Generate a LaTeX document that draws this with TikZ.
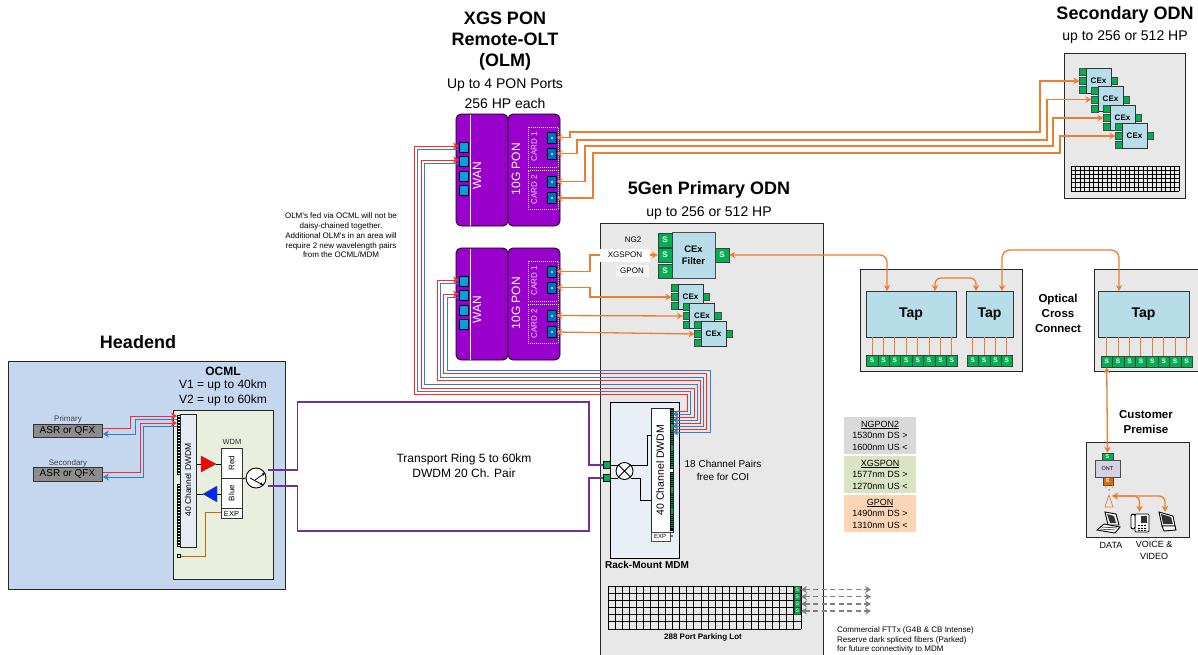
\documentclass[tikz,border=0pt]{standalone}
\usepackage{fontspec}
\setmainfont{Liberation Sans}
\usetikzlibrary{arrows.meta,calc,shapes.geometric}
\newcommand\fsz[2]{\fontsize{#1}{#2}\selectfont}
\definecolor{oran}{HTML}{ED7D31}
\definecolor{grn}{HTML}{00B050}
\definecolor{purp}{HTML}{9900CC}
\definecolor{cexb}{HTML}{B7DDE8}
\definecolor{lin}{HTML}{262626}
\definecolor{rd}{HTML}{FF2A2A}
\definecolor{bl}{HTML}{2F80C8}
\definecolor{ring}{HTML}{7030A0}
\definecolor{headb}{HTML}{C5D7EE}
\definecolor{ocmlb}{HTML}{E9EFDD}
\definecolor{dwb}{HTML}{E6ECF6}
\definecolor{mdmb}{HTML}{E9EFF7}
\definecolor{wp}{HTML}{00A3E0}
\definecolor{pp}{HTML}{0070C0}
\definecolor{lgA}{HTML}{D9D9D9}
\definecolor{lgB}{HTML}{D8E4C4}
\definecolor{lgC}{HTML}{FBD5B5}
\definecolor{ontb}{HTML}{D3D1E2}
\tikzset{
 box/.style={draw=lin,line width=0.9pt,inner sep=0,anchor=north west},
 txt/.style={inner sep=0,align=center,text=black},
 olmbox/.style={draw=black,line width=0.8pt,fill=purp,rounded corners=5pt,inner sep=0},
 wport/.style={draw=black,line width=0.8pt,fill=wp,inner sep=0,minimum width=9pt,minimum height=10.5pt},
 pport/.style={draw=black,line width=0.8pt,fill=pp,inner sep=0,minimum width=9pt,minimum height=11pt},
 cardbox/.style={draw=white,dash pattern=on 1pt off 1pt,line width=0.8pt,inner sep=0},
 gp/.style={draw=black!70,line width=0.5pt,fill=grn,inner sep=0,minimum size=6.6pt},
 gs/.style={draw=black!75,line width=0.6pt,fill=grn,inner sep=0,text=white,font=\bfseries\fsz{6.5}{6.5}},
 gsb/.style={gs,minimum width=14pt,minimum height=14pt,font=\bfseries\fsz{8}{8}},
 cexbody/.style={draw=black!80,line width=0.8pt,fill=cexb,inner sep=0,minimum size=25pt,font=\bfseries\fsz{8}{8}},
 tapbody/.style={draw=black!80,line width=0.8pt,fill=cexb,inner sep=0,minimum height=46pt,font=\bfseries\fsz{14}{14}},
 orangeln/.style={draw=oran,line width=1.3pt,{Stealth[length=6pt,width=6.5pt]}-{Stealth[length=6pt,width=6.5pt]}},
 stem/.style={draw=oran,line width=1.1pt},
 redln/.style={draw=rd,line width=1pt,-{Stealth[length=6pt,width=7pt]}},
 blueln/.style={draw=bl,line width=1pt},
 bluearr/.style={draw=bl,line width=1pt,-{Stealth[length=6pt,width=7pt]}},
 ringln/.style={draw=ring,line width=1.1pt},
 thin1/.style={draw=black,line width=0.9pt},
 dashln/.style={draw=gray,line width=1.2pt,dash pattern=on 5pt off 3.5pt,{Stealth[length=6pt,width=7pt]}-{Stealth[length=6pt,width=7pt]}},
 legend/.style={inner sep=0,minimum width=72pt,align=center,font=\fsz{9}{11.5}},
}
% small CEx: name, body left, body top
\newcommand\cexs[3]{%
 \node[gp] (#1a) at (#2-3,#3+4) {};
 \node[gp] (#1b) at (#2-3,#3+13) {};
 \node[gp] (#1c) at (#2-3,#3+22) {};
 \node[gp] (#1r) at (#2+28,#3+13) {};
 \node[cexbody] (#1) at (#2+12.5,#3+12.5) {CEx};
}
% OLM: name prefix, y offset
\newcommand\olm[2]{%
 \node[olmbox,minimum width=52pt,minimum height=112pt] (#1wan) at (482,170+#2) {};
 \node[olmbox,minimum width=52pt,minimum height=112pt] (#1pon) at (534,170+#2) {};
 \draw[white,line width=0.6pt] (470,114.5+#2) -- (470,225.5+#2);
 \node[txt,rotate=90,text=white,font=\fsz{12}{12}] (#1wt) at (477,176+#2) {WAN};
 \node[txt,rotate=90,text=white,font=\fsz{12}{12}] (#1pt) at (516,169+#2) {10G PON};
 \node[cardbox,minimum width=30pt,minimum height=40pt] (#1c1) at (543,147+#2) {};
 \node[cardbox,minimum width=30pt,minimum height=39pt] (#1c2) at (543,189.5+#2) {};
 \node[txt,rotate=90,text=white!85!purp,font=\fsz{8}{8}] (#1ct1) at (534,147+#2) {CARD 1};
 \node[txt,rotate=90,text=white!85!purp,font=\fsz{8}{8}] (#1ct2) at (534,190+#2) {CARD 2};
 \foreach \nn/\yy in {1/147.5,2/161.5,3/176.5,4/190.5}{
  \node[wport] (#1w\nn) at (463.5,\yy+#2) {};
  \fill[black!60] (465,\yy+#2+1) rectangle (467,\yy+#2+2);
 }
 \foreach \nn/\yy in {1/137.5,2/153.5,3/181.5,4/198}{
  \node[pport] (#1p\nn) at (551.5,\yy+#2) {};
  \fill[white!55!cyan] (551,\yy+#2-1) rectangle (553,\yy+#2+1);
 }
}
% MDM wire
\newcommand\wire[6]{\draw[#1] (#2) -| (#3,#4) -- (#5,#4) |- (#6);}
% grid: rows x0 y0 cols cellw cellh width
\newcommand\gridd[7]{%
 \foreach \ii in {0,...,#4}{\draw[black,line width=#7] (#2+\ii*#5,#3) -- (#2+\ii*#5,#3+#1*#6);}
 \foreach \ii in {0,...,#1}{\draw[black,line width=#7] (#2,#3+\ii*#6) -- (#2+#4*#5,#3+\ii*#6);}
}
\begin{document}
\begin{tikzpicture}[x=1pt,y=-1pt]
\useasboundingbox (0,0) rectangle (1198,654);
\clip (0,0) rectangle (1198,654);
\fill[white] (0,0) rectangle (1198,654);

% ---------- titles
\node[txt,font=\bfseries\fsz{18}{21}] (tOlm) at (505,41.5) {XGS PON\\Remote-OLT\\(OLM)};
\node[txt,font=\fsz{14}{20.5}] (tOlm2) at (505,93.5) {Up to 4 PON Ports\\256 HP each};
\node[txt,font=\bfseries\fsz{18}{18}] (tSec) at (1125,15) {Secondary ODN};
\node[txt,font=\fsz{14}{14}] (tSec2) at (1125,37) {up to 256 or 512 HP};
\node[txt,font=\bfseries\fsz{18}{18}] (tPri) at (709,190) {5Gen Primary ODN};
\node[txt,font=\fsz{14}{14}] (tPri2) at (709,213) {up to 256 or 512 HP};
\node[txt,font=\bfseries\fsz{18}{18}] (tHead) at (138,342) {Headend};
\node[txt,font=\fsz{8}{9.8}] (tNote) at (341,235.5) {OLM's fed via OCML will not be\\daisy-chained together.\\Additional OLM's in an area will\\require 2 new wavelength pairs\\from the OCML/MDM};

% ---------- background boxes
\node[box,fill=headb,minimum width=277pt,minimum height=228pt] (headend) at (8,361) {};
\node[box,fill=black!9,minimum width=223pt,minimum height=440pt] (odn) at (600,223) {};
\node[box,fill=black!9,minimum width=121pt,minimum height=145pt] (secbox) at (1064,53) {};
\node[box,fill=black!9,minimum width=162pt,minimum height=102pt] (occ1) at (860,269) {};
\node[box,fill=black!9,minimum width=115pt,minimum height=102pt] (occ2) at (1094,269) {};
\node[box,fill=black!9,minimum width=103pt,minimum height=95pt] (prem) at (1086,442) {};

% ---------- OLMs
\olm{a}{0}
\olm{b}{134}

% ---------- Headend
\node[box,fill=ocmlb,minimum width=100pt,minimum height=169pt] (ocml) at (173,410) {};
\node[txt,font=\bfseries\fsz{12}{12}] (tOcml) at (223,371) {OCML};
\node[txt,font=\fsz{12}{15}] (tV) at (223,392.5) {V1 = up to 40km\\V2 = up to 60km};
\node[box,fill=dwb,minimum width=16pt,minimum height=133pt] (dw1) at (180,414) {};
\node[txt,rotate=90,font=\fsz{8.5}{8.5}] (tdw1) at (188,480) {40 Channel DWDM};
\fill[black] (177,415) rectangle (180,475);
\fill[black] (177,484) rectangle (180,547);
\foreach \yy in {415.5,418.5,...,472.5} \fill[white] (177.7,\yy) rectangle (179.5,\yy+1.6);
\foreach \yy in {484.5,487.5,...,544.5} \fill[white] (177.7,\yy) rectangle (179.5,\yy+1.6);
\node[box,fill=black!45,draw=black!80,minimum width=69pt,minimum height=13pt] (asr1) at (33,424) {};
\node[txt,font=\fsz{10}{10}] (asr1t) at (67.5,430.5) {ASR or QFX};
\node[box,fill=black!45,draw=black!80,minimum width=69pt,minimum height=14pt] (asr2) at (33,467) {};
\node[txt,font=\fsz{10}{10}] (asr2t) at (67.5,474) {ASR or QFX};
\node[txt,font=\fsz{8}{8},text=black!75] (asr1l) at (68,419) {Primary};
\node[txt,font=\fsz{8}{8},text=black!75] (asr2l) at (68,463) {Secondary};
\coordinate (ph1) at (177,416); \coordinate (ph2) at (177,419);
\coordinate (ph3) at (177,423); \coordinate (ph4) at (177,426);
\draw[redln] (asr1.east |- 0,428) -| (130.5,416) -- (ph1);
\draw[bluearr] (ph2) -- (135,419) |- (asr1.east |- 0,434);
\draw[redln] (asr2.east |- 0,472) -| (140,423) -- (ph3);
\draw[bluearr] (ph4) -- (143.5,426) |- (asr2.east |- 0,477);

\node[box,fill=white,draw=black!80,minimum width=21pt,minimum height=30pt] (wred) at (221,448) {};
\node[box,fill=white,draw=black!80,minimum width=21pt,minimum height=30pt] (wblue) at (221,478) {};
\node[box,fill=white,draw=black!80,minimum width=21pt,minimum height=10pt] (wexp) at (221,508) {};
\node[txt,rotate=90,font=\fsz{8}{8}] (wredt) at (231.5,463) {Red};
\node[txt,rotate=90,font=\fsz{8}{8}] (wbluet) at (231.5,493) {Blue};
\node[txt,font=\fsz{7.5}{7.5}] (wexpt) at (231.5,513.5) {EXP};
\node[txt,font=\fsz{7.5}{7.5},text=black!80] (wdmt) at (232,442) {WDM};
\coordinate (trw) at (201,464); \coordinate (trt) at (216,464);
\coordinate (tbw) at (217,494); \coordinate (tbt) at (203,494);
\draw[thin1] (dw1.east |- trw) -- (trw);
\draw[thin1] (trt) -- (wred.west |- trt);
\draw[thin1] (dw1.east |- tbt) -- (tbt);
\draw[thin1] (tbw) -- (wblue.west |- tbw);
\fill[red,draw=black!70,line width=0.4pt] (201,456) -- (216,464) -- (201,472) -- cycle;
\fill[blue!85!cyan,draw=black!70,line width=0.4pt] (217,486) -- (203,494) -- (217,502) -- cycle;
\node[circle,draw=black,line width=0.9pt,fill=white,inner sep=0,minimum size=20pt] (circ) at (256,478) {};
\draw[thin1] (wred.south east) -- (circ.west);
\draw[black,line width=0.8pt,-{Stealth[length=3pt,width=3pt]}] (250,478) -- (263,485);
\draw[black,line width=0.8pt,-{Stealth[length=3pt,width=3pt]}] (255,480) -- (265,473);
\node[draw=black,fill=white,line width=0.6pt,inner sep=0,minimum size=3pt] (expp) at (179,556) {};
\draw[draw=orange!80!black,line width=0.9pt] (wexp.west |- 0,512) -| (205,556) -- (expp.east);

% ---------- MDM
\node[box,draw=black,fill=mdmb,minimum width=69pt,minimum height=156pt] (mdm) at (610,402) {};
\node[draw=black,fill=grn,line width=0.4pt,inner sep=0,minimum size=7pt] (mg1) at (606.5,465) {};
\node[draw=black,fill=grn,line width=0.4pt,inner sep=0,minimum size=7pt] (mg2) at (606.5,478) {};
\node[box,fill=white,minimum width=22pt,minimum height=124pt] (dw2) at (651,408) {};
\node[txt,rotate=90,font=\fsz{10.5}{10.5}] (tdw2) at (660,470) {40 Channel DWDM};
\fill[black] (670,409) rectangle (673,469);
\fill[black] (670,472) rectangle (673,531);
\foreach \yy in {409.5,411.6,...,467} \fill[grn] (670.6,\yy) rectangle (672.6,\yy+1.3);
\foreach \yy in {472.5,474.6,...,529} \fill[grn] (670.6,\yy) rectangle (672.6,\yy+1.3);
\node[box,fill=white,draw=black!70,minimum width=19pt,minimum height=9pt] (mexp) at (651,532) {};
\node[txt,font=\fsz{6}{6}] (mexpt) at (660,536.5) {EXP};
\fill[grn] (671,535) rectangle (673,537);
\node[circle,draw=black,line width=0.9pt,fill=white,inner sep=0,minimum size=17pt] (xc) at (624.5,471) {};
\draw[thin1] (xc.north west) -- (xc.south east) (xc.north east) -- (xc.south west);
\draw[thin1] (mg1.east) -- (xc.north west |- mg1);
\draw[thin1] (mg2.east) -- (xc.south west |- mg2);
\draw[thin1] (xc.north east |- mg1) -| (647,435) -- (dw2.west |- 0,435);
\draw[thin1] (xc.south east |- mg2) -| (640,500) -- (dw2.west |- 0,500);
\node[txt,font=\bfseries\fsz{10}{10}] (tMdm) at (647,565) {Rack-Mount MDM};
\node[txt,font=\fsz{10}{13}] (tFree) at (723,470) {18 Channel Pairs\\free for COI};

% ---------- Ring
\coordinate (cu) at (268,470); \coordinate (cd) at (268,486);
\draw[ringln] (cu) -| (297.5,402) -- (589,402) |- (mg1.west);
\draw[ringln] (cd) -| (297.5,531) -- (589,531) |- (mg2.west);
\node[txt,font=\fsz{12}{15}] (tRing) at (464,465.5) {Transport Ring 5 to 60km\\DWDM 20 Ch. Pair};

% ---------- MDM wires
\foreach \nn/\yy in {1/411,2/414,3/417,4/420,5/423,6/426,7/429,8/432}{\coordinate (m\nn) at (674,\yy);}
\coordinate (ai1) at (459,146); \coordinate (ai2) at (459,149);
\coordinate (ai3) at (459,160); \coordinate (ai4) at (459,163);
\coordinate (bi1) at (459,280); \coordinate (bi2) at (459,283);
\coordinate (bi3) at (459,294); \coordinate (bi4) at (459,297);
\wire{redln}{m1}{687}{394}{414}{ai1}
\wire{blueln}{m2}{690}{391}{417}{ai2}
\wire{redln}{m3}{694}{388}{421}{ai3}
\wire{blueln}{m4}{697}{384}{424}{ai4}
\wire{redln}{m5}{700}{380}{437}{bi1}
\wire{blueln}{m6}{703}{377}{440}{bi2}
\wire{redln}{m7}{706}{373}{443}{bi3}
\wire{blueln}{m8}{710}{370}{447}{bi4}
\foreach \yy in {414,420,426,432}{\fill[bl] (673,\yy) -- (677.5,\yy-3.5) -- (677.5,\yy+3.5) -- cycle;}

% ---------- CEx Filter
\node[draw=black!70,line width=0.8pt,fill=cexb,inner sep=0,minimum width=43pt,minimum height=46pt,align=center,font=\bfseries\fsz{9.5}{12}] (filt) at (693.5,255) {CEx\\Filter};
\node[gsb] (fs1) at (665,240) {S};
\node[gsb] (fs2) at (665,255) {S};
\node[gsb] (fs3) at (665,271) {S};
\node[gsb] (fsr) at (722,255) {S};
\cexs{p1}{678}{284}
\cexs{p2}{689.5}{303}
\cexs{p3}{701}{321}
\draw[orangeln] (bp1.east) -| (590,255) -- (fs2.west);
\draw[orangeln] (bp2.east) -| (590,297) -- (p1b.west);
\draw[orangeln] (bp3.east) -- (p2b.west);
\draw[orangeln] (bp4.east) -- (p3b.west);
\node[txt,fill=white,minimum width=50pt,minimum height=13pt,font=\fsz{8}{8}] (lx) at (625,255) {XGSPON};
\node[txt,font=\fsz{8}{8}] (ln) at (633,240) {NG2};
\node[txt,fill=black!4,minimum width=33pt,minimum height=12pt,font=\fsz{8}{8}] (lg) at (632,271) {GPON};

% ---------- Secondary ODN
\gridd{6}{1071}{166}{24}{4.5}{4.17}{0.7pt}
\cexs{s1}{1086}{68}
\cexs{s2}{1098}{86.5}
\cexs{s3}{1110}{105}
\cexs{s4}{1122}{123}
\draw[orangeln] (ap1.east) -| (570,132) -- (1040,132) |- (s1b.west);
\draw[orangeln] (ap2.east) -| (577,140) -- (1047,140) |- (s2b.west);
\draw[orangeln] (ap3.east) -| (585,146) -- (1053,146) |- (s3b.west);
\draw[orangeln] (ap4.east) -| (593,153) -- (1060,153) |- (s4b.west);

% ---------- Taps
\node[tapbody,minimum width=90pt] (tap1) at (911,314) {Tap};
\node[tapbody,minimum width=47pt] (tap2) at (989.5,314) {Tap};
\node[tapbody,minimum width=91pt] (tap3) at (1143.5,314) {Tap};
\foreach \ii in {1,...,8}{
 \node[gs,minimum width=11.4pt,minimum height=11pt] (sa\ii) at (860.7+\ii*11.4,360.5) {S};
 \draw[stem] (tap1.south -| sa\ii) -- (sa\ii.north);
 \node[gs,minimum width=11.4pt,minimum height=11pt] (sc\ii) at (1095.3+\ii*11.4,361.5) {S};
 \draw[stem] (tap3.south -| sc\ii) -- (sc\ii.north);
}
\foreach \ii in {1,...,4}{
 \node[gs,minimum width=11.4pt,minimum height=11pt] (sb\ii) at (961.3+\ii*11.4,360.5) {S};
 \draw[stem] (tap2.south -| sb\ii) -- (sb\ii.north);
}
\coordinate (t1a) at (887,291); \coordinate (t1b) at (935,291);
\coordinate (t2a) at (976,291); \coordinate (t2b) at (1002,291);
\coordinate (t3a) at (1119,291);
\draw[orangeln,rounded corners=7pt] (fsr.east) -| (t1a);
\draw[orangeln,rounded corners=6pt] (t1b) -- (935,278) -- (976,278) -- (t2a);
\draw[orangeln,rounded corners=8pt] (t2b) -- (1002,250) -- (1119,250) -- (t3a);
\node[txt,font=\bfseries\fsz{11.5}{15}] (tOcc) at (1058,313) {Optical\\Cross\\Connect};

% ---------- Customer premise
\node[txt,font=\bfseries\fsz{11.5}{15}] (tCust) at (1146,422.5) {Customer\\Premise};
\node[gs,minimum width=11pt,minimum height=7pt,font=\bfseries\fsz{5.5}{6}] (ontS) at (1107.5,456.5) {S};
\node[draw=black!70,line width=0.8pt,fill=ontb,inner sep=0,minimum width=25pt,minimum height=17pt,font=\fsz{5.5}{6}] (ont) at (1107.5,468.5) {ONT};
\node[draw=black!70,line width=0.5pt,fill=orange!85!black,inner sep=0,minimum width=10pt,minimum height=8pt,text=white,font=\bfseries\fsz{5.5}{6}] (ontE) at (1108,481) {E};
\draw[orangeln] (sc1.south) -- (ontS.north);
% antenna
\draw[oran,line width=0.7pt] (1105,507) -- (1109,495) -- (1113,507) -- cycle;
\fill[oran] (1109,490) circle (1pt);
\draw[oran,line width=0.5pt] (1106,488) arc[start angle=220,end angle=140,radius=3pt];
\draw[oran,line width=0.5pt] (1112,488) arc[start angle=-40,end angle=40,radius=3pt];
\coordinate (ant) at (1112,496);
\node[inner sep=0,minimum size=1pt] (icPhone) at (1139.5,512.5) {};
\node[inner sep=0,minimum size=1pt] (icTv) at (1165,512.5) {};
\draw[orangeln,rounded corners=6pt] (ant) -| (icPhone.north);
\draw[orangeln,rounded corners=6pt] (ant) -| (icTv.north);
% data icon
\draw[black,fill=white,line width=0.9pt] (1105,512) -- (1116,514) -- (1119,525) -- (1108,525) -- cycle;
\fill[black!80] (1107,514) -- (1114,516) -- (1116,523) -- (1110,523) -- cycle;
\draw[black,fill=white,line width=0.9pt] (1097,530) -- (1104,524) -- (1120,527) -- (1115,533) -- cycle;
\draw[black,line width=0.5pt] (1100,529) -- (1115,530) (1102,527) -- (1117,528);
% phone icon
\draw[black,fill=white,line width=0.9pt,rounded corners=1pt] (1135,514) rectangle (1149,532);
\draw[black,fill=white,line width=0.9pt,rounded corners=2pt] (1131,514) rectangle (1135,529);
\fill[black!80] (1141,516) rectangle (1147,523);
\foreach \yy in {525,527.5,530}{\foreach \xx in {1138,1141,1144}{\fill[black] (\xx,\yy) rectangle (\xx+1.8,\yy+1.3);}}
% monitor icon
\draw[black,fill=white,line width=0.9pt] (1159,512) -- (1173,516) -- (1175,526) -- (1162,526) -- cycle;
\fill[black!80] (1161,514) -- (1171,517) -- (1173,524) -- (1163,524) -- cycle;
\draw[black,fill=white,line width=0.9pt] (1162,526) -- (1175,526) -- (1176,530) -- (1164,531) -- cycle;
\node[txt,font=\fsz{9}{12}] (tData) at (1111,545) {DATA};
\node[txt,font=\fsz{9}{12}] (tVoice) at (1154,550) {VOICE \&\\VIDEO};

% ---------- Legend
\node[legend,fill=lgA,minimum height=37pt] (lg1) at (880,435.5) {\underline{NGPON2}\\1530nm DS >\\1600nm US <};
\node[legend,fill=lgB,minimum height=37pt] (lg2) at (880,474.5) {\underline{XGSPON}\\1577nm DS >\\1270nm US <};
\node[legend,fill=lgC,minimum height=37pt] (lg3) at (880,513.5) {\underline{GPON}\\1490nm DS >\\1310nm US <};

% ---------- Parking lot
\gridd{6}{608}{586}{27}{7.15}{7.17}{0.9pt}
\foreach \ii in {1,...,4}{
 \node[gs,minimum width=6.6pt,minimum height=6.6pt,font=\fsz{5}{5}] (pk\ii) at (797.4,582.4+\ii*7.17) {S};
 \coordinate (pe\ii) at (871,582.4+\ii*7.17);
 \draw[dashln] (pk\ii.east) -- (pe\ii);
}
\node[txt,font=\bfseries\fsz{8}{8}] (tPark) at (703,637) {288 Port Parking Lot};
\node[txt,align=left,anchor=west,font=\fsz{8}{9.6}] (tComm) at (837,640) {Commercial FTTx (G4B \& CB Intense)\\Reserve dark spliced fibers (Parked)\\for future connectivity to MDM};
\end{tikzpicture}
\end{document}
